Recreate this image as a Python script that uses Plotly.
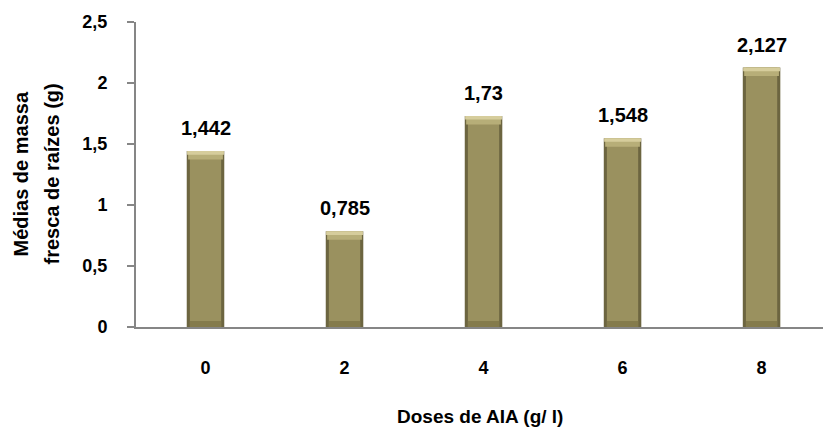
import plotly.graph_objects as go

# Root fresh mass means by IAA dose
doses = ["0", "2", "4", "6", "8"]
means = [1.442, 0.785, 1.73, 1.548, 2.127]
y_ticks = [0, 0.5, 1, 1.5, 2, 2.5]

face = "#9A915F"
edge = "#6C6540"
cap_light = "#D6CD9C"
cap_mid = "#B7AE78"
foot = "#847B4C"

fig = go.Figure()

# dark outline of each bar
fig.add_trace(go.Bar(x=doses, y=means, width=0.27, marker=dict(color=edge, line=dict(width=0)),
                     hoverinfo="skip"))
# main face
fig.add_trace(go.Bar(x=doses, y=means, width=0.225, marker=dict(color=face, line=dict(width=0)),
                     hovertemplate="%{x}: %{y}<extra></extra>"))
# bevelled top cap
fig.add_trace(go.Bar(x=doses, y=[0.07] * len(means), base=[m - 0.07 for m in means], width=0.25,
                     marker=dict(color=cap_mid, line=dict(width=0)), hoverinfo="skip"))
fig.add_trace(go.Bar(x=doses, y=[0.03] * len(means), base=[m - 0.03 for m in means], width=0.265,
                     marker=dict(color=cap_light, line=dict(width=0)), hoverinfo="skip"))
# darker foot
fig.add_trace(go.Bar(x=doses, y=[0.05] * len(means), width=0.225,
                     marker=dict(color=foot, line=dict(width=0)), hoverinfo="skip"))

font = dict(family="Liberation Sans, Arial, sans-serif", color="#000000")

# value labels above the bars (category index positions)
annotations = [
    dict(x=i, y=m, xref="x", yref="y", text="<b>" + f"{m:g}".replace(".", ",") + "</b>",
         showarrow=False, yanchor="bottom", yshift=10, font=dict(size=20, **font))
    for i, m in enumerate(means)
]
# axis titles
annotations.append(dict(x=0.5, y=-0.292, xref="paper", yref="paper", text="<b>Doses de AIA (g/ l)</b>",
                        showarrow=False, xanchor="center", yanchor="middle", font=dict(size=19, **font)))
annotations.append(dict(x=20, y=0.5, xref="paper", yref="paper",
                        text="<b>Médias de massa</b>", textangle=-90,
                        showarrow=False, xanchor="center", yanchor="middle", font=dict(size=20, **font)))
annotations.append(dict(x=51, y=0.5, xref="paper", yref="paper",
                        text="<b>fresca de raízes (g)</b>", textangle=-90,
                        showarrow=False, xanchor="center", yanchor="middle", font=dict(size=20, **font)))

# convert the pixel x positions of the y-title lines to paper coordinates
plot_left, plot_width = 136, 823 - 136
for a in annotations[-2:]:
    a["x"] = (a["x"] - plot_left) / plot_width

fig.update_layout(
    width=823, height=428,
    margin=dict(l=136, r=0, t=22, b=101),
    paper_bgcolor="white", plot_bgcolor="white",
    barmode="overlay", showlegend=False,
    separators=", ",
    annotations=annotations,
    xaxis=dict(type="category", range=[-0.5, 4.442], showgrid=False, zeroline=False,
               showline=True, linecolor="#868686", linewidth=2, ticks="",
               ticklabelstandoff=23, tickfont=dict(size=18, **font),
               tickvals=doses, ticktext=[f"<b>{d}</b>" for d in doses]),
    yaxis=dict(range=[0, 2.5], showgrid=False, zeroline=False, showline=True,
               linecolor="#868686", linewidth=2, ticks="outside", ticklen=7,
               tickcolor="#868686", tickwidth=2, ticklabelstandoff=16,
               tickvals=y_ticks, ticktext=[f"<b>{f'{t:g}'.replace('.', ',')}</b>" for t in y_ticks],
               tickfont=dict(size=18, **font)),
)

fig.write_html("out.html")
